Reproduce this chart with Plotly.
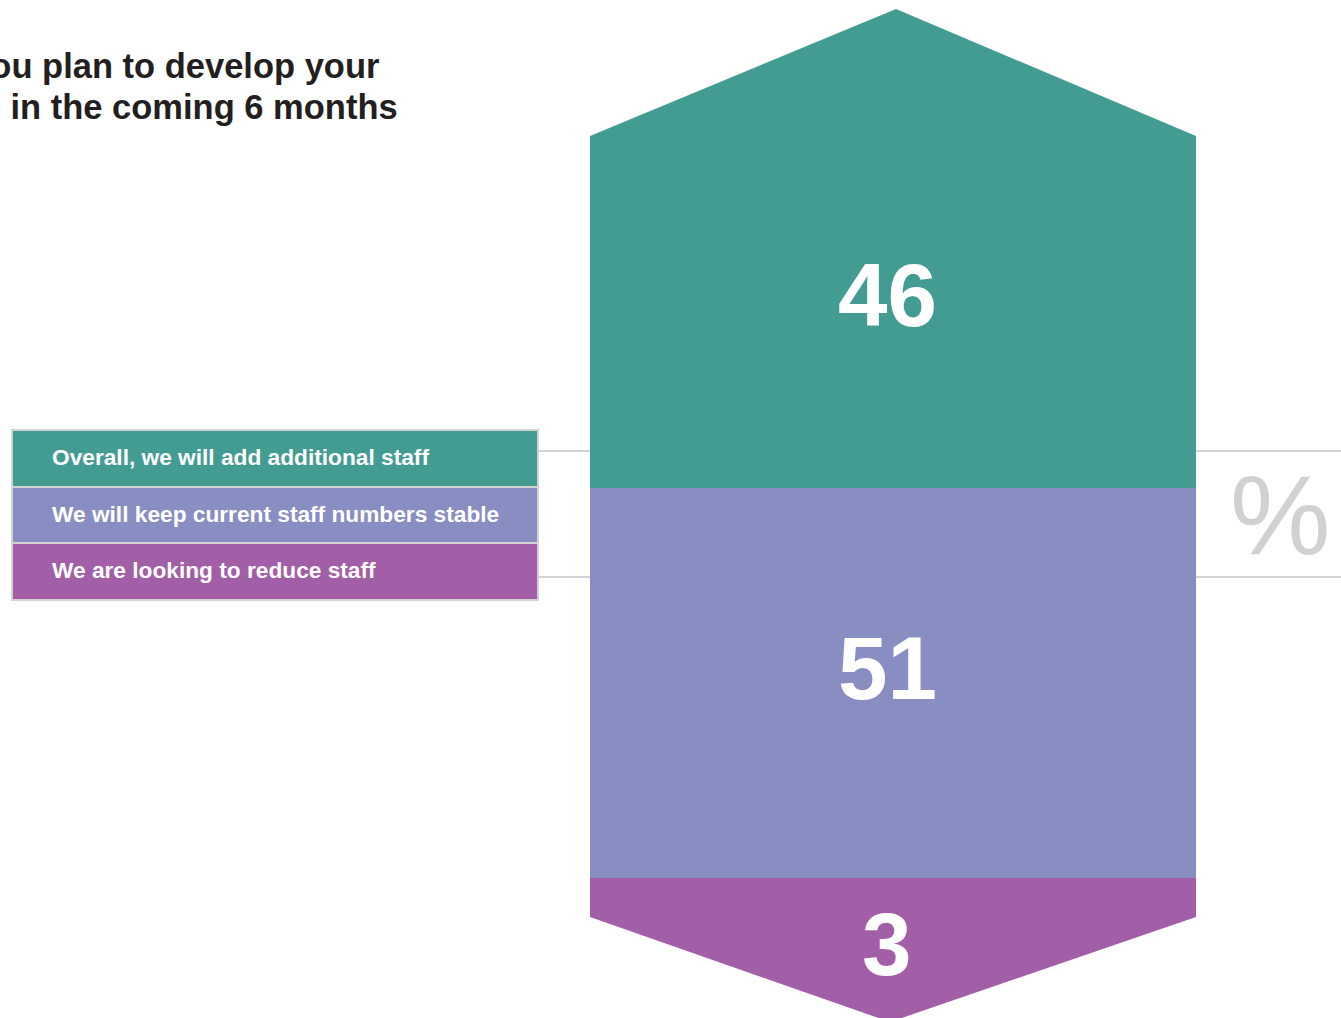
import plotly.graph_objects as go

# Survey answers, stacked bottom-up
categories = ["We are looking to reduce staff",
              "We will keep current staff numbers stable",
              "Overall, we will add additional staff"]
values = [3, 51, 46]
colors = ["#A25EA7", "#888EC2", "#429C92"]

# Legend rows are listed top-down
legend_labels = ["Overall, we will add additional staff",
                 "We will keep current staff numbers stable",
                 "We are looking to reduce staff"]
legend_colors = ["#429C92", "#888EC2", "#A25EA7"]

title_lines = ["How do you plan to develop your",
               "workforce in the coming 6 months"]

W, H = 1341, 1018
FONT = "Liberation Sans, Arial, Helvetica, sans-serif"

# pixel helpers for paper-referenced decorations
def px(x):
    return x / W

def py(y):
    return 1 - y / H

# vertical scale: value 100 sits at pixel 136, 7.65 px per percentage point
PX_PER_UNIT = 7.65
TOP_PX = 136
total = sum(values)
y_max = total + TOP_PX / PX_PER_UNIT
y_min = total - (H - TOP_PX) / PX_PER_UNIT

fig = go.Figure()
for cat, v, c in zip(categories, values, colors):
    fig.add_trace(go.Bar(
        x=[0], y=[v], name=cat, width=1,
        marker=dict(color=c, line=dict(width=0)),
        hoverinfo="skip", showlegend=False,
    ))

shapes = []

# grey guide lines running behind the column
for yl in (451, 577):
    shapes.append(dict(type="line", xref="paper", yref="paper",
                       x0=px(538), x1=1, y0=py(yl), y1=py(yl),
                       line=dict(color="#D4D4D4", width=2), layer="below"))

# pointed cap above the top segment
cap_top = total + 127 / PX_PER_UNIT
shapes.append(dict(type="path", xref="x", yref="y",
                   path=f"M -0.5,{total} L 0.005,{cap_top} L 0.5,{total} Z",
                   fillcolor=colors[-1], line=dict(width=0)))

# pointed cap below the bottom segment
shoulder = -16 / PX_PER_UNIT
tip = -121 / PX_PER_UNIT
shapes.append(dict(type="path", xref="x", yref="y",
                   path=(f"M -0.5,0 L -0.5,{shoulder} L -0.005,{tip} "
                         f"L 0.5,{shoulder} L 0.5,0 Z"),
                   fillcolor=colors[0], line=dict(width=0)))

# legend boxes
row_edges = [430, 487, 543, 600]
annotations = []
for i, (lab, col) in enumerate(zip(legend_labels, legend_colors)):
    y0, y1 = row_edges[i], row_edges[i + 1]
    shapes.append(dict(type="rect", xref="paper", yref="paper",
                       x0=px(12), x1=px(538), y0=py(y1), y1=py(y0),
                       fillcolor=col, line=dict(color="#D3D3D3", width=2)))
    annotations.append(dict(xref="paper", yref="paper",
                            x=px(50), y=py((y0 + y1) / 2 - 1.5),
                            xanchor="left", yanchor="middle", showarrow=False,
                            text=f"<b>{lab}</b>",
                            font=dict(family=FONT, size=22.7, color="white")))

# value labels inside the column
cum = 0
label_shift = [-54, 15, 17]
for v, s in zip(values, label_shift):
    mid = cum + v / 2
    cum += v
    annotations.append(dict(xref="x", yref="y", x=0, y=mid, xshift=-6, yshift=s,
                            xanchor="center", yanchor="middle", showarrow=False,
                            text=f"<b>{v}</b>",
                            font=dict(family=FONT, size=89, color="white")))

# unit marker
annotations.append(dict(xref="paper", yref="paper", x=px(1280), y=py(515),
                        xanchor="center", yanchor="middle", showarrow=False,
                        text="%", font=dict(family=FONT, size=113, color="#D1D1D1")))

# title, two lines right-anchored
for line, xr, yc in zip(title_lines, (381, 400), (66, 107)):
    annotations.append(dict(xref="paper", yref="paper", x=px(xr), y=py(yc),
                            xanchor="right", yanchor="middle", showarrow=False,
                            text=f"<b>{line}</b>",
                            font=dict(family=FONT, size=34.5, color="#231F20")))

fig.update_layout(
    width=W, height=H,
    margin=dict(l=0, r=0, t=0, b=0),
    paper_bgcolor="white", plot_bgcolor="rgba(0,0,0,0)",
    barmode="stack", bargap=0,
    xaxis=dict(domain=[px(590), px(1196)], range=[-0.5, 0.5], visible=False,
               fixedrange=True),
    yaxis=dict(domain=[0, 1], range=[y_min, y_max], visible=False, fixedrange=True),
    shapes=shapes, annotations=annotations, showlegend=False,
)

fig.write_html("out.html")
